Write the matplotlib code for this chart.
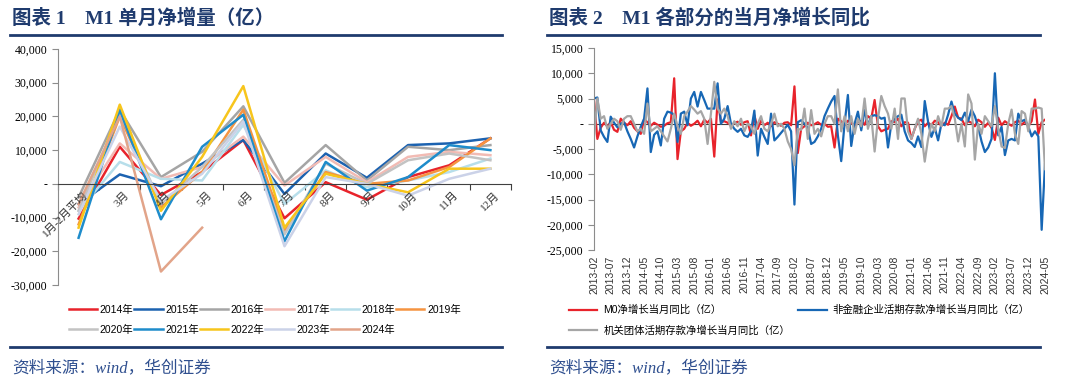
import matplotlib.pyplot as plt
from matplotlib.lines import Line2D
from matplotlib.ticker import FuncFormatter, MultipleLocator, FixedLocator
import numpy as np
import pandas as pd

plt.rcParams['font.family'] = ['Liberation Serif', 'Noto Sans CJK SC', 'DejaVu Sans']

# ---- 图表1 数据：M1 单月净增量（亿）
months = ['1月-2月平均', '3月', '4月', '5月', '6月', '7月', '8月', '9月', '10月', '11月', '12月']
years = ['2014年', '2015年', '2016年', '2017年', '2018年', '2019年',
         '2020年', '2021年', '2022年', '2023年', '2024年']
y2014 = [-10300, 11000, -3300, 3500, 13000, -10200, 500, -4700, 2000, 5500, 13500]
y2015 = [-6000, 2800, -700, 6000, 13000, -3000, 9000, 1800, 11500, 12000, 13500]
y2016 = [-4000, 22000, 2000, 9500, 23000, 300, 11500, 1000, 11000, 10000, 11500]
y2017 = [-7000, 12000, 1500, 5000, 14000, -500, 8000, 500, 8000, 9500, 8500]
y2018 = [-8000, 6500, 1500, 1000, 17500, -6000, 4000, -1000, 1000, 3500, 7500]
y2019 = [-12000, 20000, -7000, 3500, 22000, -14000, 3500, 0, 1000, 5000, 13500]
y2020 = [-8000, 21000, -6000, 5000, 19000, -15000, 6000, 0, 7000, 9000, 7000]
y2021 = [-16000, 22000, -10500, 11000, 20500, -17000, 6500, -2000, 2000, 11500, 10000]
y2022 = [-13000, 23500, -8000, 8000, 29000, -13000, 3000, 0, -2500, 4500, 4500]
y2023 = [-9000, 17000, -5000, 3000, 18500, -18500, 2000, 0, -3500, 1500, 4500]
y2024 = [-6000, 20000, -26000, -13000]
year_colors = ['#E8232B', '#1C62B0', '#A5A5A5', '#F2BBB4', '#B7DEEA', '#F59441',
               '#C3C3C3', '#1E8CCB', '#F7C51C', '#CBD2E8', '#E2A489']

# ---- 图表2 数据：M1 各部分当月净增长同比（亿），2013-02 至 2024-05（每行一年）
m0_yoy = [
    4800, -3000, -800, 200, -500, 300, -1200, -1600, 1000, 200, -300,
    500, -800, -1500, -2000, 900, 300, -400, 200, -200, -600, -400, 100,
    300, 9000, -7000, -1500, -1000, 200, -400, 0, 600, -500, 800, 200,
    1000, -6500, 4800, 300, 500, 200, -300, 100, 400, -200, 300, 500,
    -2300, 1700, -1000, 600, -300, 200, -500, 300, 0, -400, 200, 300,
    -300, 7400, -5800, -1000, -500, 200, -300, -100, 300, -200, 0, -600,
    -500, -4700, 1000, 500, -300, 600, 200, -400, 300, 500, -200, 1500,
    1000, 4700, -500, -1500, -1200, -1000, 500, 300, 1000, -500, 300, 200,
    -3000, -1000, 500, 800, -500, 200, -300, 600, 300, -400, 200, -200,
    1500, 3400, 1200, 1000, -300, 500, 200, -500, 800, 300, -600, 200,
    -800, -3200, 1200, -300, 500, 0, -400, 300, 600, -200, 400, -500,
    500, 4800, -2000, 300, 800,
]
corp_yoy = [
    5000, 5200, -1300, -2600, -3600, 1400, 200, -700, 0, 300, -1500,
    -3000, -4700, -2500, -600, 1000, 7000, -5600, -2200, -1500, -4300, 1000, 2400,
    2200, 1800, -3600, 2000, 2400, -300, 5000, 6300, 3400, 6300, 4700, 3000,
    3000, 3000, 8000, 0, 1000, 3500, 0, -1000, -1600, -1000, -2300, -2600,
    -1500, 2600, -6300, -1000, -2600, -4000, 2000, -3300, -2600, -1800, -1000, -200,
    -1500, -16000, 300, 700, 0, -800, -4000, -3600, -2500, -1000, 1500, 3000,
    4400, 5500, -2300, -7400, 0, 5700, -4400, 0, 2400, -1300, 2700, -300,
    1500, 1700, 1500, 1000, 1200, -4700, 0, 1000, 1500, 1800, -1500, -3300,
    -3800, -4600, -2500, -4600, 4500, 400, -2600, -800, -3300, 0, -300, 1800,
    4400, 2000, 1200, 700, 2200, 500, 2800, 1500, -600, -3500, -5600, -4700,
    -3000, 10000, -2300, -600, -6200, -3300, -3000, -3300, 2000, 500, 800, -500,
    -2500, -1500, -2500, -21000, -8000,
]
gov_yoy = [
    -2600, 5000, 1000, 1500, -1000, 0, 1000, 500, -1200, 1000, 1500,
    1500, 0, -1500, -1000, -2000, 4000, -1500, -1000, -500, -1500, -2500, -3500,
    -1000, 2000, -500, -2000, 1500, 2400, 3500, 2800, 2000, 2500, 1000, -4000,
    2000, 8300, 3000, 2000, 3000, 1500, -1000, 500, -500, 1000, -1500, 0,
    -500, -2000, 0, 1500, -1000, -1500, 0, 2000, -500, 0, -1000, -3500,
    -5000, -8200, -1000, -1200, 3000, -3000, 2700, -2000, -1000, -2500, 0, 1500,
    1500, 0, 6800, -1500, 1500, -1500, 1500, -2000, 1000, -500, 5000, -1000,
    1500, -5500, 1000, 5500, 3500, 2000, -1000, 3000, -3000, 5000, 5000, -1500,
    -3000, -1000, 1000, -2000, -7500, -3000, 0, -1500, 1500, -500, 3000, 3000,
    3500, 1000, -3500, 0, -4500, 5800, 4000, -7100, 0, -2000, 1500, 500,
    -500, 3500, -1000, -4500, -4800, 0, 2800, -2000, -4000, 2500, 2000, -1500,
    3000, 3000, 3200, 3000, -9000,
]
series_names = ['M0净增长当月同比（亿）', '非金融企业活期存款净增长当月同比（亿）',
                '机关团体活期存款净增长当月同比（亿）']
series_colors = ['#E8232B', '#1767B5', '#A6A6A6']
dates = pd.date_range('2013-02-01', '2024-05-01', freq='MS').strftime('%Y-%m')

navy = '#1F3B6E'
serif = ['Liberation Serif', 'Noto Sans CJK SC', 'DejaVu Sans']
sans = ['Liberation Sans', 'Noto Sans CJK SC', 'DejaVu Sans']
fmt = FuncFormatter(lambda v, p: '-' if v == 0 else f'{v:,.0f}')

fig = plt.figure(figsize=(10.8, 3.86), dpi=100)

# 标题与装饰线
fig.text(12 / 1080, 1 - 18 / 386, '图表 1    M1 单月净增量（亿）', family=serif,
         fontsize=14, fontweight='bold', color=navy, va='center')
fig.text(549 / 1080, 1 - 18 / 386, '图表 2    M1 各部分的当月净增长同比', family=serif,
         fontsize=14, fontweight='bold', color=navy, va='center')
for x0, x1 in [(10, 502), (547, 1040)]:
    for yy in (35, 347):
        fig.add_artist(Line2D([x0 / 1080, x1 / 1080], [1 - yy / 386] * 2,
                              color=navy, lw=2))
    fig.text((x0 + 2) / 1080, 1 - 368 / 386, '资料来源：wind，华创证券', family=serif,
             fontsize=12, color='#2F4F8F', style='italic', va='center')

# ---- 图表1
ax1 = fig.add_axes([58 / 1080, 1 - 285 / 386, (511 - 58) / 1080, (285 - 49) / 386])
x = np.arange(len(months))
data1 = [y2014, y2015, y2016, y2017, y2018, y2019, y2020, y2021, y2022, y2023, y2024]
handles = []
for name, vals, c in zip(years, data1, year_colors):
    h, = ax1.plot(x[:len(vals)], vals, color=c, lw=1.8, label=name)
    handles.append(h)
ax1.set_xlim(-0.5, len(months) - 0.5)
ax1.set_ylim(-30000, 40000)
ax1.yaxis.set_major_locator(MultipleLocator(10000))
ax1.yaxis.set_major_formatter(fmt)
ax1.spines['top'].set_visible(False)
ax1.spines['right'].set_visible(False)
ax1.spines['left'].set_color('#8C8C8C')
ax1.spines['bottom'].set_position(('data', 0))
ax1.spines['bottom'].set_color('#404040')
ax1.xaxis.set_major_locator(FixedLocator(np.arange(-0.5, len(months), 1)))
ax1.set_xticklabels([])
ax1.tick_params(axis='x', direction='out', length=4, color='#404040')
ax1.tick_params(axis='y', direction='out', length=4, color='#8C8C8C', labelsize=8.5)
for i, m in enumerate(months):
    ax1.annotate(m, (i, 0), xytext=(3, -4), textcoords='offset points',
                 rotation=45, ha='right', va='top', rotation_mode='anchor',
                 fontsize=8, color='#333333')
order = [0, 6, 1, 7, 2, 8, 3, 9, 4, 10, 5]
fig.legend([handles[i] for i in order], [years[i] for i in order],
           loc='upper left', bbox_to_anchor=(69 / 1080, 1 - 305 / 386), ncol=6,
           frameon=False, prop={'family': sans, 'size': 7.5},
           handlelength=2.7, handletextpad=0.25, columnspacing=0.1,
           labelspacing=0.95, borderaxespad=0, borderpad=0)

# ---- 图表2
ax2 = fig.add_axes([594 / 1080, 1 - 250 / 386, (1045 - 594) / 1080, (250 - 48) / 386])
t = np.arange(len(dates))
h2 = []
for name, vals, c in zip(series_names, [m0_yoy, corp_yoy, gov_yoy], series_colors):
    h, = ax2.plot(t, vals, color=c, lw=1.6, label=name)
    h2.append(h)
ax2.axhline(0, color='#404040', lw=0.8, zorder=0)
ax2.set_xlim(0, len(dates) - 1)
ax2.set_ylim(-25000, 15000)
ax2.yaxis.set_major_locator(MultipleLocator(5000))
ax2.yaxis.set_major_formatter(fmt)
ax2.set_xticks(t[::5])
ax2.set_xticklabels(dates[::5], rotation=90, family=sans, fontsize=7.5, color='#333333')
ax2.tick_params(axis='x', length=0, pad=4)
ax2.tick_params(axis='y', direction='out', length=4, color='#8C8C8C', labelsize=8.5)
for s in ['top', 'right', 'bottom']:
    ax2.spines[s].set_visible(False)
ax2.spines['left'].set_color('#8C8C8C')
fig.legend([h2[0], h2[2], h2[1]], [series_names[0], series_names[2], series_names[1]],
           loc='upper left', bbox_to_anchor=(569 / 1080, 1 - 305 / 386), ncol=2,
           frameon=False, prop={'family': sans, 'size': 7.5},
           handlelength=2.7, handletextpad=0.6, columnspacing=0.8,
           labelspacing=0.95, borderaxespad=0, borderpad=0)

fig.savefig('out.png', dpi=100)
